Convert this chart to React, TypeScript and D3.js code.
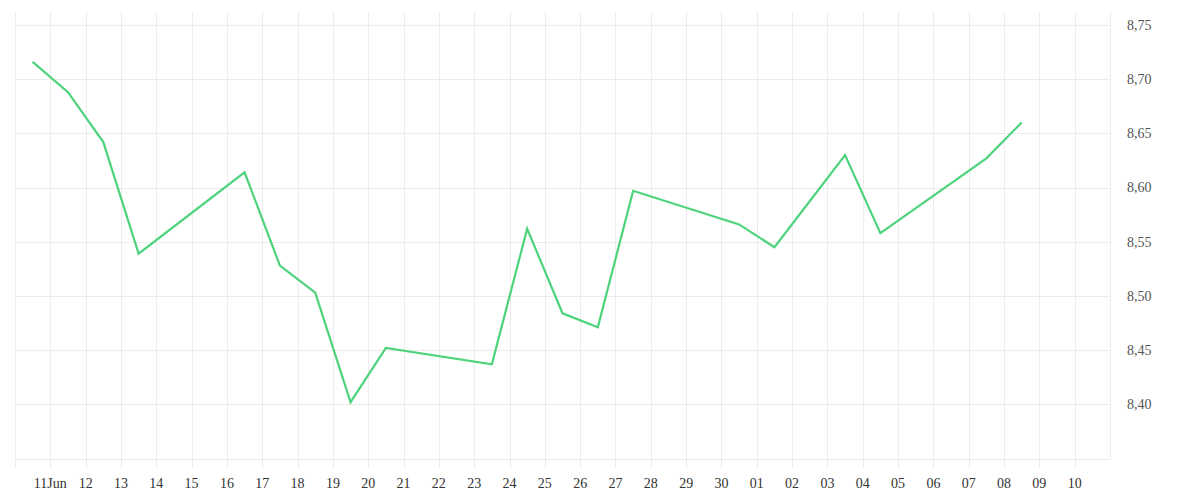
import React, { useRef, useEffect } from "react";
import * as d3 from "d3";

const DATES = [
  "2014-06-10", "2014-06-11", "2014-06-12", "2014-06-13", "2014-06-16",
  "2014-06-17", "2014-06-18", "2014-06-19", "2014-06-20", "2014-06-23",
  "2014-06-24", "2014-06-25", "2014-06-26", "2014-06-27", "2014-06-30",
  "2014-07-01", "2014-07-03", "2014-07-04", "2014-07-07", "2014-07-08",
];

const VALUES = [
  8.716, 8.688, 8.642, 8.539, 8.614,
  8.528, 8.503, 8.402, 8.452, 8.437,
  8.562, 8.484, 8.471, 8.597, 8.566,
  8.545, 8.63, 8.558, 8.627, 8.66,
];

const Y_TICKS = [8.4, 8.45, 8.5, 8.55, 8.6, 8.65, 8.7, 8.75];

const WIDTH = 1200;
const HEIGHT = 500;

const parseDay = d3.utcParse("%Y-%m-%d");

export default function App() {
  const svgRef = useRef<SVGSVGElement>(null);

  useEffect(() => {
    if (!svgRef.current) return;
    const svg = d3.select(svgRef.current);
    svg.selectAll("*").remove();

    const left = 15;
    const right = 1110;
    const top = 12;
    const bottom = 458.5;

    const x = d3
      .scaleUtc()
      .domain([parseDay("2014-06-10")!, parseDay("2014-07-11")!])
      .range([left, right]);
    const y = d3.scaleLinear().domain([8.35, 8.762]).range([bottom, top]);

    const grid = "#ececec";
    const days = d3.utcDay.range(parseDay("2014-06-10")!, parseDay("2014-07-11")!);

    // vertical grid + small ticks below
    svg
      .append("g")
      .selectAll("line")
      .data(days)
      .join("line")
      .attr("x1", (d) => Math.round(x(d)) + 0.5)
      .attr("x2", (d) => Math.round(x(d)) + 0.5)
      .attr("y1", top)
      .attr("y2", bottom + 10)
      .attr("stroke", grid)
      .attr("stroke-width", 1);

    svg
      .append("line")
      .attr("x1", right + 0.5)
      .attr("x2", right + 0.5)
      .attr("y1", top)
      .attr("y2", bottom)
      .attr("stroke", grid);

    // horizontal grid
    svg
      .append("g")
      .selectAll("line")
      .data([8.35, ...Y_TICKS])
      .join("line")
      .attr("x1", left)
      .attr("x2", right)
      .attr("y1", (d) => Math.round(y(d)) + 0.5)
      .attr("y2", (d) => Math.round(y(d)) + 0.5)
      .attr("stroke", grid)
      .attr("stroke-width", 1);

    // right axis labels
    svg
      .append("g")
      .selectAll("text")
      .data(Y_TICKS)
      .join("text")
      .attr("x", 1127)
      .attr("y", (d) => y(d))
      .attr("dy", "0.35em")
      .style("font-family", "'Liberation Serif', serif")
      .style("font-size", "14px")
      .style("fill", "#555")
      .text((d) => d3.format(".2f")(d).replace(".", ","));

    // bottom axis labels
    const tickDays = days.slice(1);
    svg
      .append("g")
      .selectAll("text")
      .data(tickDays)
      .join("text")
      .attr("x", (d) => x(d))
      .attr("y", 483)
      .attr("dy", "0.35em")
      .attr("text-anchor", "middle")
      .style("font-family", "'Liberation Serif', serif")
      .style("font-size", "14px")
      .style("fill", "#333")
      .text((d, i) => (i === 0 ? d3.utcFormat("%d%b")(d) : d3.utcFormat("%d")(d)));

    // series line (points at midday)
    const points = DATES.map((d, i) => ({
      t: d3.utcHour.offset(parseDay(d)!, 12),
      v: VALUES[i],
    }));
    const line = d3
      .line<{ t: Date; v: number }>()
      .x((d) => x(d.t))
      .y((d) => y(d.v));

    svg
      .append("path")
      .datum(points)
      .attr("d", line)
      .attr("fill", "none")
      .attr("stroke", "#4cd37b")
      .attr("stroke-width", 2.2)
      .attr("stroke-linejoin", "miter");
  }, []);

  return (
    <svg
      ref={svgRef}
      width={WIDTH}
      height={HEIGHT}
      style={{ position: "absolute", left: 0, top: 0, background: "#fff" }}
    />
  );
}
